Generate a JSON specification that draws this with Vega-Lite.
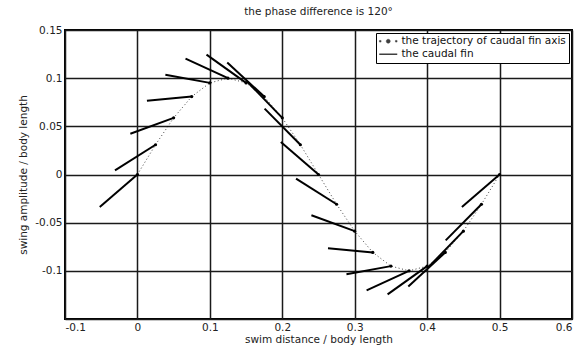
{
  "$schema": "https://vega.github.io/schema/vega-lite/v6.json",
  "autosize": {"type": "none"},
  "padding": {"left": 65, "top": 30, "right": 7, "bottom": 30},
  "width": 507,
  "height": 289,
  "background": "white",
  "title": {"text": "the phase difference is 120°", "font": "DejaVu Sans", "fontSize": 10.5, "fontWeight": "normal", "color": "#222", "offset": 8, "anchor": "middle"},
  "config": {
    "view": {"stroke": "black", "strokeWidth": 2},
    "axis": {
      "labelFont": "DejaVu Sans", "labelFontSize": 10.5, "labelColor": "#222",
      "titleFont": "DejaVu Sans", "titleFontSize": 10.5, "titleFontWeight": "normal", "titleColor": "#222",
      "grid": true, "gridColor": "#1a1a1a", "gridWidth": 1.5, "gridOpacity": 1,
      "ticks": false, "domain": false
    },
    "legend": {
      "title": null, "orient": "top-right", "offset": 3,
      "strokeColor": "black", "fillColor": "white", "padding": 3, "rowPadding": 2,
      "labelFont": "DejaVu Sans", "labelFontSize": 10.5, "labelColor": "#111", "labelLimit": 300,
      "symbolSize": 16, "labelOffset": 12
    }
  },
  "data": {"values": [
    {"x": 0, "y": 0, "xt": -0.052, "yt": -0.0337},
    {"x": 0.025, "y": 0.0309, "xt": -0.031, "yt": 0.0043},
    {"x": 0.05, "y": 0.0588, "xt": -0.0098, "yt": 0.0423},
    {"x": 0.075, "y": 0.0809, "xt": 0.0131, "yt": 0.0766},
    {"x": 0.1, "y": 0.0951, "xt": 0.0386, "yt": 0.1036},
    {"x": 0.125, "y": 0.1, "xt": 0.0664, "yt": 0.1202},
    {"x": 0.15, "y": 0.0951, "xt": 0.0954, "yt": 0.1244},
    {"x": 0.175, "y": 0.0809, "xt": 0.124, "yt": 0.1162},
    {"x": 0.2, "y": 0.0588, "xt": 0.151, "yt": 0.0968},
    {"x": 0.225, "y": 0.0309, "xt": 0.1756, "yt": 0.0684},
    {"x": 0.25, "y": 0, "xt": 0.198, "yt": 0.0337},
    {"x": 0.275, "y": -0.0309, "xt": 0.219, "yt": -0.0043},
    {"x": 0.3, "y": -0.0588, "xt": 0.2402, "yt": -0.0423},
    {"x": 0.325, "y": -0.0809, "xt": 0.2631, "yt": -0.0766},
    {"x": 0.35, "y": -0.0951, "xt": 0.2886, "yt": -0.1036},
    {"x": 0.375, "y": -0.1, "xt": 0.3164, "yt": -0.1202},
    {"x": 0.4, "y": -0.0951, "xt": 0.3454, "yt": -0.1244},
    {"x": 0.425, "y": -0.0809, "xt": 0.374, "yt": -0.1162},
    {"x": 0.45, "y": -0.0588, "xt": 0.401, "yt": -0.0968},
    {"x": 0.475, "y": -0.0309, "xt": 0.4256, "yt": -0.0684},
    {"x": 0.5, "y": 0, "xt": 0.448, "yt": -0.0337}
  ]},
  "layer": [
    {
      "mark": {"type": "line", "strokeDash": [1, 2.5], "strokeWidth": 1, "opacity": 0.75},
      "encoding": {
        "x": {"field": "x", "type": "quantitative",
          "scale": {"domain": [-0.1, 0.6], "nice": false, "zero": false},
          "axis": {"values": [-0.1, 0, 0.1, 0.2, 0.3, 0.4, 0.5, 0.6], "labelExpr": "replace(format(datum.value, '.2~f'), '−', '-')", "labelPadding": 3, "title": "swim distance / body length", "titlePadding": 2}},
        "y": {"field": "y", "type": "quantitative",
          "scale": {"domain": [-0.15, 0.15], "nice": false, "zero": false},
          "axis": {"values": [-0.15, -0.1, -0.05, 0, 0.05, 0.1, 0.15], "labelExpr": "datum.value < -0.12 ? '' : replace(format(datum.value, '.2~f'), '−', '-')", "labelPadding": 3, "title": "swing amplitude / body length", "titlePadding": 6}},
        "color": {"datum": "the trajectory of caudal fin axis", "type": "nominal",
          "scale": {"domain": ["the trajectory of caudal fin axis", "the caudal fin"], "range": ["black", "black"]},
          "legend": {
            "symbolType": {"expr": "datum.value === 'the caudal fin' ? 'M-2.5,0L6.5,0' : 'M-2.4,-0.4h0.8v0.8h-0.8z M5.6,-0.4h0.8v0.8h-0.8z M1,0a1,1 0 1,0 2,0a1,1 0 1,0 -2,0z'"},
            "symbolFillColor": {"expr": "datum.value === 'the caudal fin' ? 'transparent' : 'black'"},
            "symbolStrokeColor": "black",
            "symbolDash": [],
            "symbolStrokeWidth": {"expr": "datum.value === 'the caudal fin' ? 1.5 : 0.5"}
          }}
      }
    },
    {
      "mark": {"type": "point", "filled": true, "size": 10, "color": "black", "opacity": 1},
      "encoding": {
        "x": {"field": "x", "type": "quantitative"},
        "y": {"field": "y", "type": "quantitative"}
      }
    },
    {
      "mark": {"type": "rule", "strokeWidth": 2, "color": "black"},
      "encoding": {
        "x": {"field": "x", "type": "quantitative"},
        "y": {"field": "y", "type": "quantitative"},
        "x2": {"field": "xt"},
        "y2": {"field": "yt"}
      }
    }
  ]
}
